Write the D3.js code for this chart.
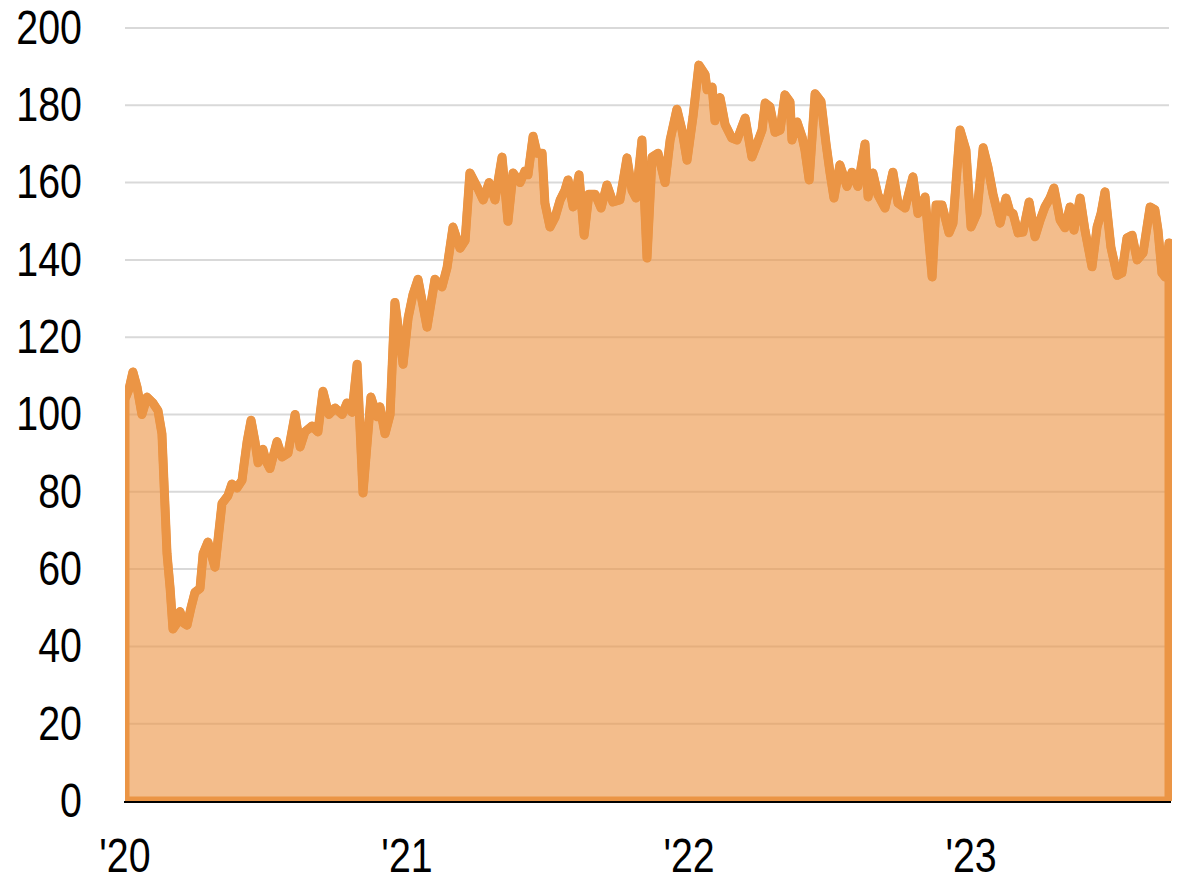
<!DOCTYPE html>
<html>
<head>
<meta charset="utf-8">
<script src="https://cdn.jsdelivr.net/npm/d3@7"></script>
<style>
	body { margin: 0; background: #fff; }
	svg text { font-family: 'Liberation Sans', Arial, sans-serif; fill: #000; }
</style>
</head>
<body>
<div id="chart"></div>
<script>
// decimal years
const dates = [
	2020.000, 2020.014, 2020.028, 2020.043, 2020.060, 2020.078, 2020.099, 2020.117, 2020.131, 2020.142,
	2020.149, 2020.160, 2020.170, 2020.184, 2020.195, 2020.209, 2020.220, 2020.234, 2020.248, 2020.266,
	2020.277, 2020.294, 2020.319, 2020.344, 2020.365, 2020.379, 2020.397, 2020.415, 2020.422, 2020.433,
	2020.447, 2020.461, 2020.472, 2020.489, 2020.500, 2020.514, 2020.539, 2020.557, 2020.578, 2020.603,
	2020.621, 2020.638, 2020.663, 2020.684, 2020.702, 2020.723, 2020.745, 2020.770, 2020.787, 2020.805,
	2020.823, 2020.844, 2020.872, 2020.894, 2020.904, 2020.922, 2020.940, 2020.957, 2020.986,
	2021.004, 2021.021, 2021.039, 2021.071, 2021.099, 2021.124, 2021.142, 2021.163, 2021.188, 2021.206,
	2021.223, 2021.248, 2021.270, 2021.291, 2021.312, 2021.337, 2021.358, 2021.376, 2021.401, 2021.418,
	2021.429, 2021.447, 2021.461, 2021.479, 2021.489, 2021.507, 2021.525, 2021.543, 2021.560, 2021.571,
	2021.589, 2021.610, 2021.628, 2021.645, 2021.667, 2021.688, 2021.709, 2021.730, 2021.755, 2021.780,
	2021.798, 2021.812, 2021.833, 2021.851, 2021.869, 2021.890, 2021.915, 2021.933, 2021.957, 2021.975,
	2021.993, 2022.014, 2022.035, 2022.057, 2022.064, 2022.082, 2022.092, 2022.110, 2022.128, 2022.152,
	2022.170, 2022.199, 2022.223, 2022.241, 2022.259, 2022.270, 2022.287, 2022.305, 2022.323, 2022.340,
	2022.358, 2022.365, 2022.383, 2022.401, 2022.411, 2022.426, 2022.447, 2022.468, 2022.486, 2022.500,
	2022.514, 2022.535, 2022.560, 2022.578, 2022.599, 2022.624, 2022.635, 2022.652, 2022.670, 2022.695,
	2022.723, 2022.741, 2022.766, 2022.794, 2022.812, 2022.837, 2022.862, 2022.876, 2022.897, 2022.922,
	2022.936, 2022.961, 2022.982, 2023.000, 2023.021, 2023.043, 2023.060, 2023.078, 2023.103, 2023.124,
	2023.138, 2023.149, 2023.167, 2023.184, 2023.206, 2023.227, 2023.245, 2023.262, 2023.280, 2023.294,
	2023.316, 2023.333, 2023.351, 2023.365, 2023.387, 2023.404, 2023.429, 2023.447, 2023.461, 2023.475,
	2023.496, 2023.518, 2023.535, 2023.553, 2023.571, 2023.589, 2023.610, 2023.624, 2023.635, 2023.652,
	2023.663, 2023.677, 2023.688, 2023.702
];

const values = [
	104, 106.5, 111, 107, 100, 104.5, 103, 101, 95, 76,
	64, 55, 44.5, 46, 49, 46, 45.5, 50, 54, 55,
	64, 67, 60.5, 77, 79, 82, 81, 83, 87, 93,
	98.5, 93, 87.5, 91, 88, 86, 93, 89, 90, 100,
	91.6, 95.5, 97, 95.5, 106, 100, 101.7, 100, 103, 100.6,
	113, 79.7, 104.5, 99.4, 102, 95, 100, 129, 113,
	125, 131, 135, 122.6, 135, 133, 138, 148.5, 143, 145,
	162.5, 159, 155.5, 160, 155.5, 166.6, 150, 162.5, 160, 163,
	162, 172, 167.6, 167.6, 154.7, 148.5, 151, 155.5, 158, 160.7,
	153.7, 162, 146.4, 157, 157, 153.4, 159.4, 155, 155.5, 166.4,
	158, 156, 171, 140.5, 166.6, 167.6, 160, 171, 179, 173.6,
	165.8, 177, 190.4, 188, 184, 184.7, 176, 182, 175, 171.5,
	171, 176.7, 166.6, 170, 173.6, 180.6, 179.6, 173, 173.6, 182.7,
	180.9, 171, 175.7, 171.8, 168.4, 160.7, 183, 181, 170, 162.5,
	156, 164.6, 159, 162.7, 159, 170, 156.3, 162.5, 156.8, 153.4,
	162.7, 154.7, 153.4, 161.5, 152, 156.3, 135.6, 154.2, 154.2, 147,
	149.5, 173.6, 168.4, 148.5, 152, 169, 164, 157, 149.5, 156,
	152.4, 152, 147, 147.2, 155, 146, 150.3, 153.7, 156, 158.6,
	150.3, 148.3, 153.7, 147.7, 156, 147.7, 138.2, 148.5, 152, 157.6,
	143.3, 136, 136.6, 145.7, 146.4, 140, 141.8, 148.5, 153.7, 153,
	147.7, 136.6, 135.6, 144.4
];

const yTicks = [0, 20, 40, 60, 80, 100, 120, 140, 160, 180, 200];
const xTicks = [2020, 2021, 2022, 2023];
const xTickLabels = ["'20", "'21", "'22", "'23"];

const lineColor = "#EB9545";

const width = 1190, height = 879;
const margin = {top: 28, right: 21, bottom: 78, left: 125};
const narrow = 0.82; // squeeze labels to look like a narrow face

const data = dates.map((d, i) => ({t: d, v: values[i]}));

const svg = d3.select("#chart").append("svg")
	.attr("width", width)
	.attr("height", height);

const x = d3.scaleLinear()
	.domain([dates[0], dates[dates.length - 1]])
	.range([margin.left, width - margin.right]);

const y = d3.scaleLinear()
	.domain([0, 200])
	.range([height - margin.bottom, margin.top]);

// grid lines
svg.append("g")
	.selectAll("line")
	.data(yTicks.filter(d => d > 0))
	.join("line")
	.attr("x1", margin.left)
	.attr("x2", width - margin.right)
	.attr("y1", d => y(d))
	.attr("y2", d => y(d))
	.attr("stroke", "#d9d9d9")
	.attr("stroke-width", 2);

// y labels
svg.append("g")
	.selectAll("text")
	.data(yTicks)
	.join("text")
	.attr("transform", d => `translate(${margin.left - 43},${y(d)}) scale(${narrow},1)`)
	.attr("dy", "0.33em")
	.attr("text-anchor", "end")
	.style("font-size", "48px")
	.text(d => d);

// x labels
svg.append("g")
	.selectAll("text")
	.data(xTicks)
	.join("text")
	.attr("transform", d => `translate(${x(d)},${height - 7}) scale(${narrow},1)`)
	.attr("text-anchor", "middle")
	.style("font-size", "48px")
	.text((d, i) => xTickLabels[i]);

svg.append("clipPath")
	.attr("id", "plot-clip")
	.append("rect")
	.attr("x", margin.left)
	.attr("y", 0)
	.attr("width", width - margin.right - margin.left + 3)
	.attr("height", y(0));

const area = d3.area()
	.x(d => x(d.t))
	.y0(y(0))
	.y1(d => y(d.v));

const line = d3.line()
	.x(d => x(d.t))
	.y(d => y(d.v));

const plot = svg.append("g").attr("clip-path", "url(#plot-clip)");

plot.append("path")
	.datum(data)
	.attr("d", area)
	.attr("fill", lineColor)
	.attr("fill-opacity", 0.62)
	.attr("stroke", lineColor)
	.attr("stroke-width", 9)
	.attr("stroke-linejoin", "round");

plot.append("path")
	.datum(data)
	.attr("d", line)
	.attr("fill", "none")
	.attr("stroke", lineColor)
	.attr("stroke-width", 8.5)
	.attr("stroke-linejoin", "round")
	.attr("stroke-linecap", "round");

// baseline
svg.append("line")
	.attr("x1", margin.left - 1)
	.attr("x2", width - margin.right + 2)
	.attr("y1", y(0) + 1)
	.attr("y2", y(0) + 1)
	.attr("stroke", "#000")
	.attr("stroke-width", 2);
</script>
</body>
</html>
